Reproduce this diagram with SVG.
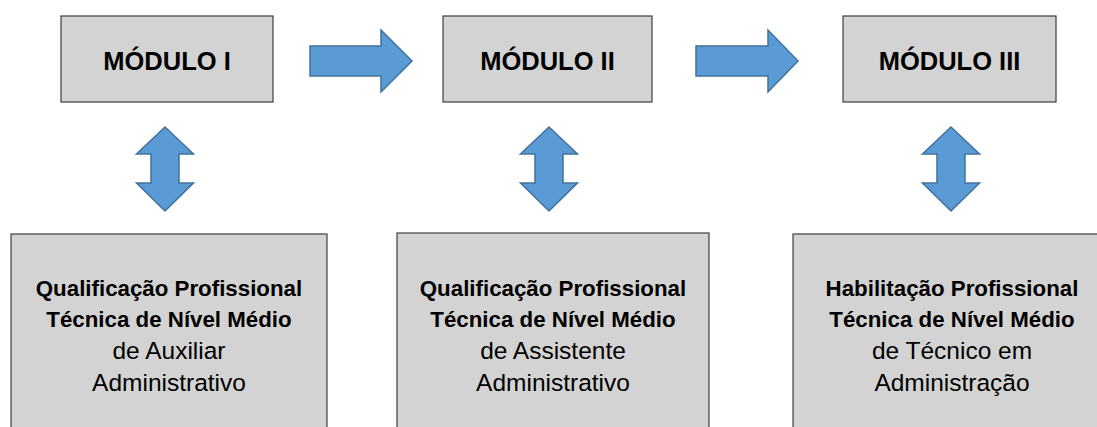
<svg xmlns="http://www.w3.org/2000/svg" width="1097" height="427" viewBox="0 0 1097 427">
<style>
.box{fill:#d3d3d3;stroke:#3f3f3f;stroke-width:1.2}
.arr{fill:#5b9bd5;stroke:#41719c;stroke-width:1.5;stroke-linejoin:miter}
.t{font-family:"Liberation Sans",Arial,sans-serif;fill:#000;text-anchor:middle}
.h{font-size:25.5px;font-weight:bold}
.b{font-size:22.3px;font-weight:bold}
.r{font-size:24.5px}
</style>
<rect width="1097" height="427" fill="#fff"/>
<g id="connectors">
<path class="arr" d="M310,46 H381 V30 L412,61 L381,92 V76 H310 Z"/>
<path class="arr" d="M696,46 H768 V30 L798,61 L768,92 V76 H696 Z"/>
<path class="arr" d="M165,127 L193.5,154 H179 V183 H193.5 L165,211 L136.5,183 H151 V154 H136.5 Z"/>
<path class="arr" d="M549,127 L577.5,154 H563 V183 H577.5 L549,211 L520.5,183 H535 V154 H520.5 Z"/>
<path class="arr" d="M951,127 L979.5,154 H965 V183 H979.5 L951,211 L922.5,183 H937 V154 H922.5 Z"/>
</g>
<g id="modulo1">
<rect class="box" x="61" y="16" width="212" height="86"/>
<text class="t h" x="167" y="70">MÓDULO I</text>
</g>
<g id="modulo2">
<rect class="box" x="443" y="16" width="209" height="86"/>
<text class="t h" x="547.5" y="70">MÓDULO II</text>
</g>
<g id="modulo3">
<rect class="box" x="843" y="16" width="213" height="86"/>
<text class="t h" x="949.5" y="70">MÓDULO III</text>
</g>
<g id="qual1">
<rect class="box" x="11" y="234" width="316" height="200"/>
<text class="t b" x="169" y="296">Qualificação Profissional</text>
<text class="t b" x="169" y="327">Técnica de Nível Médio</text>
<text class="t r" x="169" y="359">de Auxiliar</text>
<text class="t r" x="169" y="391">Administrativo</text>
</g>
<g id="qual2">
<rect class="box" x="397" y="233" width="312" height="200"/>
<text class="t b" x="553" y="296">Qualificação Profissional</text>
<text class="t b" x="553" y="327">Técnica de Nível Médio</text>
<text class="t r" x="553" y="359">de Assistente</text>
<text class="t r" x="553" y="391">Administrativo</text>
</g>
<g id="hab3">
<rect class="box" x="793" y="234" width="318" height="200"/>
<text class="t b" x="952" y="296">Habilitação Profissional</text>
<text class="t b" x="952" y="327">Técnica de Nível Médio</text>
<text class="t r" x="952" y="359">de Técnico em</text>
<text class="t r" x="952" y="391">Administração</text>
</g>
</svg>
